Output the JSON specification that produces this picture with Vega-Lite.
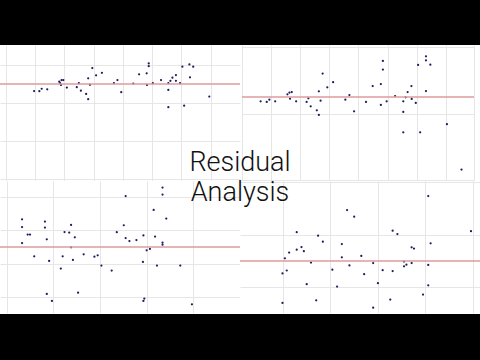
{
  "$schema": "https://vega.github.io/schema/vega-lite/v6.json",
  "background": "white",
  "padding": {"left": -1, "top": -1, "right": 0, "bottom": 0},
  "spacing": 0,
  "config": {
    "view": {"stroke": null, "fill": "white"},
    "concat": {"spacing": 0},
    "axis": {"labels": false, "ticks": false, "domain": false, "title": null, "minExtent": 0, "maxExtent": 0, "grid": true, "gridColor": "#e6e6e6", "gridWidth": 1}
  },
  "title": {
    "text": ["Residual", "Analysis"],
    "anchor": "middle",
    "orient": "top",
    "offset": -207,
    "font": "Roboto",
    "fontSize": 27,
    "fontWeight": 300,
    "lineHeight": 30,
    "color": "#111111"
  },
  "datasets": {
    "zero": [{"r": 0}],
    "tl": [
      {"x": 0.96, "r": -0.37}, {"x": 1.14, "r": -0.38}, {"x": 1.22, "r": -0.25}, {"x": 1.41, "r": -0.28},
      {"x": 1.82, "r": 0.12}, {"x": 1.85, "r": 0.04}, {"x": 1.9, "r": 0.21}, {"x": 1.96, "r": 0.21},
      {"x": 1.88, "r": -0.05}, {"x": 2.08, "r": -0.19}, {"x": 2.42, "r": -0.17}, {"x": 2.49, "r": 0.04},
      {"x": 2.56, "r": -0.35}, {"x": 2.74, "r": -0.52}, {"x": 2.81, "r": -0.8}, {"x": 2.81, "r": 0.3},
      {"x": 2.87, "r": -0.04}, {"x": 2.95, "r": 0.84}, {"x": 3.08, "r": 0.46}, {"x": 3.28, "r": 0.59},
      {"x": 3.69, "r": 0.04}, {"x": 3.81, "r": 0.21}, {"x": 3.94, "r": -0.43}, {"x": 4.35, "r": 0.02},
      {"x": 4.55, "r": 0.51}, {"x": 4.81, "r": 0.56}, {"x": 4.82, "r": -0.05}, {"x": 4.88, "r": 1.08},
      {"x": 4.88, "r": 0.94}, {"x": 5.02, "r": 0.04}, {"x": 5.3, "r": 0.21}, {"x": 5.55, "r": 0.04},
      {"x": 5.55, "r": -0.31}, {"x": 5.55, "r": -1.22}, {"x": 5.62, "r": 0.17}, {"x": 5.69, "r": 0.33},
      {"x": 5.81, "r": 0.47}, {"x": 5.81, "r": 0.17}, {"x": 5.95, "r": 0.04}, {"x": 6.03, "r": 0.91},
      {"x": 6.09, "r": -1.14}, {"x": 6.27, "r": 1.03}, {"x": 6.29, "r": 0.35}, {"x": 6.4, "r": 0.91},
      {"x": 6.95, "r": -0.66}
    ],
    "tr": [
      {"x": 0.64, "r": -0.26}, {"x": 0.85, "r": -0.3}, {"x": 0.94, "r": -0.16}, {"x": 1.14, "r": -0.26},
      {"x": 1.56, "r": 0.16}, {"x": 1.63, "r": 0.27}, {"x": 1.71, "r": 0.3}, {"x": 1.65, "r": -0.1},
      {"x": 1.86, "r": -0.26}, {"x": 2.22, "r": -0.3}, {"x": 2.28, "r": -0.08}, {"x": 2.36, "r": -0.56},
      {"x": 2.57, "r": -0.8}, {"x": 2.64, "r": -1.08}, {"x": 2.64, "r": 0.34}, {"x": 2.7, "r": -0.22},
      {"x": 2.77, "r": 1.41}, {"x": 2.93, "r": 0.58}, {"x": 3.13, "r": 0.89}, {"x": 3.55, "r": -0.16},
      {"x": 3.69, "r": 0.12}, {"x": 3.85, "r": -0.86}, {"x": 4.26, "r": -0.3}, {"x": 4.49, "r": 0.66},
      {"x": 4.77, "r": 0.78}, {"x": 4.77, "r": -0.48}, {"x": 4.84, "r": 2.17}, {"x": 4.84, "r": 1.65},
      {"x": 4.97, "r": -0.26}, {"x": 5.26, "r": 0.06}, {"x": 5.54, "r": -0.26}, {"x": 5.54, "r": -0.9},
      {"x": 5.54, "r": -2.13}, {"x": 5.62, "r": -0.02}, {"x": 5.69, "r": 0.3}, {"x": 5.82, "r": 0.66},
      {"x": 5.83, "r": -0.12}, {"x": 5.97, "r": -0.36}, {"x": 6.05, "r": 1.93}, {"x": 6.12, "r": -2.13},
      {"x": 6.32, "r": 2.45}, {"x": 6.32, "r": 2.21}, {"x": 6.32, "r": 0.36}, {"x": 6.47, "r": 1.95},
      {"x": 7.04, "r": -1.64}, {"x": 7.54, "r": -4.37}
    ],
    "bl": [
      {"x": 0.33, "r": 1.67}, {"x": 0.33, "r": 1.2}, {"x": 0.33, "r": 0.24}, {"x": 0.45, "r": 0.75},
      {"x": 0.5, "r": 0.75}, {"x": 0.59, "r": -0.56}, {"x": 0.82, "r": 1.53}, {"x": 0.82, "r": 1.17},
      {"x": 0.86, "r": 0.46}, {"x": 0.91, "r": -0.84}, {"x": 0.86, "r": -2.83}, {"x": 0.97, "r": -3.25},
      {"x": 1.16, "r": -1.3}, {"x": 1.2, "r": -0.56}, {"x": 1.24, "r": 0.9}, {"x": 1.34, "r": 0.87},
      {"x": 1.38, "r": 1.33}, {"x": 1.38, "r": -0.02}, {"x": 1.42, "r": -0.78}, {"x": 1.46, "r": 0.58},
      {"x": 1.53, "r": -2.75}, {"x": 1.65, "r": -0.44}, {"x": 1.88, "r": -0.58}, {"x": 1.95, "r": -0.5},
      {"x": 2.03, "r": -1.12}, {"x": 2.25, "r": -1.42}, {"x": 2.36, "r": 0.89}, {"x": 2.51, "r": 1.31},
      {"x": 2.55, "r": 3.07}, {"x": 2.55, "r": 0.54}, {"x": 2.63, "r": 0.36}, {"x": 2.78, "r": 0.42},
      {"x": 2.93, "r": 0.7}, {"x": 2.92, "r": -0.9}, {"x": 2.93, "r": -3.25}, {"x": 2.95, "r": -3.11},
      {"x": 3.0, "r": -0.2}, {"x": 3.07, "r": -0.12}, {"x": 3.15, "r": 2.23}, {"x": 3.18, "r": 0.63},
      {"x": 3.22, "r": -1.12}, {"x": 3.34, "r": 3.58}, {"x": 3.34, "r": 3.16}, {"x": 3.34, "r": 0.27},
      {"x": 3.34, "r": 0.14}, {"x": 3.42, "r": 1.71}, {"x": 3.72, "r": -1.12}, {"x": 3.97, "r": -3.45}
    ],
    "br": [
      {"x": 4.06, "r": 2.46}, {"x": 2.35, "r": 1.93}, {"x": 2.5, "r": 1.68}, {"x": 1.29, "r": 1.09},
      {"x": 1.74, "r": 0.96}, {"x": 1.84, "r": 0.73}, {"x": 3.31, "r": 1.15}, {"x": 3.41, "r": 1.02},
      {"x": 4.96, "r": 1.13}, {"x": 4.11, "r": 0.67}, {"x": 2.24, "r": 0.64}, {"x": 1.39, "r": 0.53},
      {"x": 1.29, "r": 0.43}, {"x": 1.44, "r": 0.37}, {"x": 1.13, "r": 0.32}, {"x": 3.71, "r": 0.52},
      {"x": 3.76, "r": 0.47}, {"x": 1.04, "r": 0.1}, {"x": 2.24, "r": 0.14}, {"x": 2.65, "r": 0.19},
      {"x": 1.59, "r": -0.06}, {"x": 2.9, "r": -0.08}, {"x": 3.55, "r": -0.02}, {"x": 3.6, "r": -0.14},
      {"x": 3.55, "r": -0.2}, {"x": 3.71, "r": -0.08}, {"x": 2.4, "r": -0.17}, {"x": 4.06, "r": -0.15},
      {"x": 1.08, "r": -0.36}, {"x": 2.04, "r": -0.33}, {"x": 3.1, "r": -0.35}, {"x": 3.31, "r": -0.38},
      {"x": 0.99, "r": -0.47}, {"x": 2.71, "r": -0.5}, {"x": 1.5, "r": -0.88}, {"x": 2.14, "r": -0.97},
      {"x": 3.0, "r": -0.84}, {"x": 4.06, "r": -0.92}, {"x": 3.95, "r": -1.27}, {"x": 0.99, "r": -1.59},
      {"x": 1.7, "r": -1.49}, {"x": 3.26, "r": -1.46}, {"x": 2.9, "r": -1.77}
    ]
  },
  "vconcat": [
    {
      "width": 480, "height": 45,
      "view": {"fill": "black", "stroke": null},
      "data": {"name": "zero"},
      "mark": {"type": "rule", "opacity": 0},
      "encoding": {}
    },
    {
      "bounds": "flush",
      "spacing": 2,
      "hconcat": [
        {
          "width": 240, "height": 136,
          "layer": [
            {
              "data": {"name": "tl"},
              "mark": {"type": "circle", "size": 5, "color": "#1c1c5e", "opacity": 1},
              "encoding": {
                "x": {"field": "x", "type": "quantitative", "scale": {"domain": [-0.205, 8], "nice": false, "zero": false}, "axis": {"values": [0,1,2,3,4,5,6,7]}},
                "y": {"field": "r", "type": "quantitative", "scale": {"domain": [-5.1053, 2.0526], "nice": false, "zero": false}, "axis": {"values": [-5,-4,-3,-2,-1,0,1,2]}}
              }
            },
            {
              "data": {"name": "zero"},
              "mark": {"type": "rule", "color": "#dd9c9c", "strokeWidth": 1.6},
              "encoding": {"y": {"field": "r", "type": "quantitative"}}
            }
          ]
        },
        {
          "width": 232, "height": 136,
          "layer": [
            {
              "data": {"name": "tr"},
              "mark": {"type": "circle", "size": 5, "color": "#1c1c5e", "opacity": 1},
              "encoding": {
                "x": {"field": "x", "type": "quantitative", "scale": {"domain": [0, 7.97], "nice": false, "zero": false}, "axis": {"values": [0,1,2,3,4,5,6,7,7.97]}},
                "y": {"field": "r", "type": "quantitative", "scale": {"domain": [-5.0602, 3.1325], "nice": false, "zero": false}, "axis": {"values": [-5,-4,-3,-2,-1,0,1,2,3]}}
              }
            },
            {
              "data": {"name": "zero"},
              "mark": {"type": "rule", "color": "#dd9c9c", "strokeWidth": 1.6},
              "encoding": {"y": {"field": "r", "type": "quantitative"}}
            }
          ]
        }
      ]
    },
    {
      "bounds": "flush",
      "hconcat": [
        {
          "width": 240, "height": 132,
          "layer": [
            {
              "data": {"name": "bl"},
              "mark": {"type": "circle", "size": 5, "color": "#1c1c5e", "opacity": 1},
              "encoding": {
                "x": {"field": "x", "type": "quantitative", "scale": {"domain": [-0.143, 5.0], "nice": false, "zero": false}, "axis": {"values": [0,1,2,3,4]}},
                "y": {"field": "r", "type": "quantitative", "scale": {"domain": [-3.976, 3.976], "nice": false, "zero": false}, "axis": {"values": [-3,-2,-1,0,1,2,3]}}
              }
            },
            {
              "data": {"name": "zero"},
              "mark": {"type": "rule", "color": "#dd9c9c", "strokeWidth": 1.6},
              "encoding": {"y": {"field": "r", "type": "quantitative"}}
            }
          ]
        },
        {
          "width": 240, "height": 132,
          "layer": [
            {
              "data": {"name": "br"},
              "mark": {"type": "circle", "size": 5, "color": "#1c1c5e", "opacity": 1},
              "encoding": {
                "x": {"field": "x", "type": "quantitative", "scale": {"domain": [0.095, 5.15], "nice": false, "zero": false}, "axis": {"values": [1,2,3,4,5]}},
                "y": {"field": "r", "type": "quantitative", "scale": {"domain": [-1.9697, 3.0303], "nice": false, "zero": false}, "axis": {"values": [-1,0,1,2,3]}}
              }
            },
            {
              "data": {"name": "zero"},
              "mark": {"type": "rule", "color": "#dd9c9c", "strokeWidth": 1.6},
              "encoding": {"y": {"field": "r", "type": "quantitative"}}
            }
          ]
        }
      ]
    },
    {
      "width": 480, "height": 47,
      "view": {"fill": "black", "stroke": null},
      "data": {"name": "zero"},
      "mark": {"type": "rule", "opacity": 0},
      "encoding": {}
    }
  ]
}
